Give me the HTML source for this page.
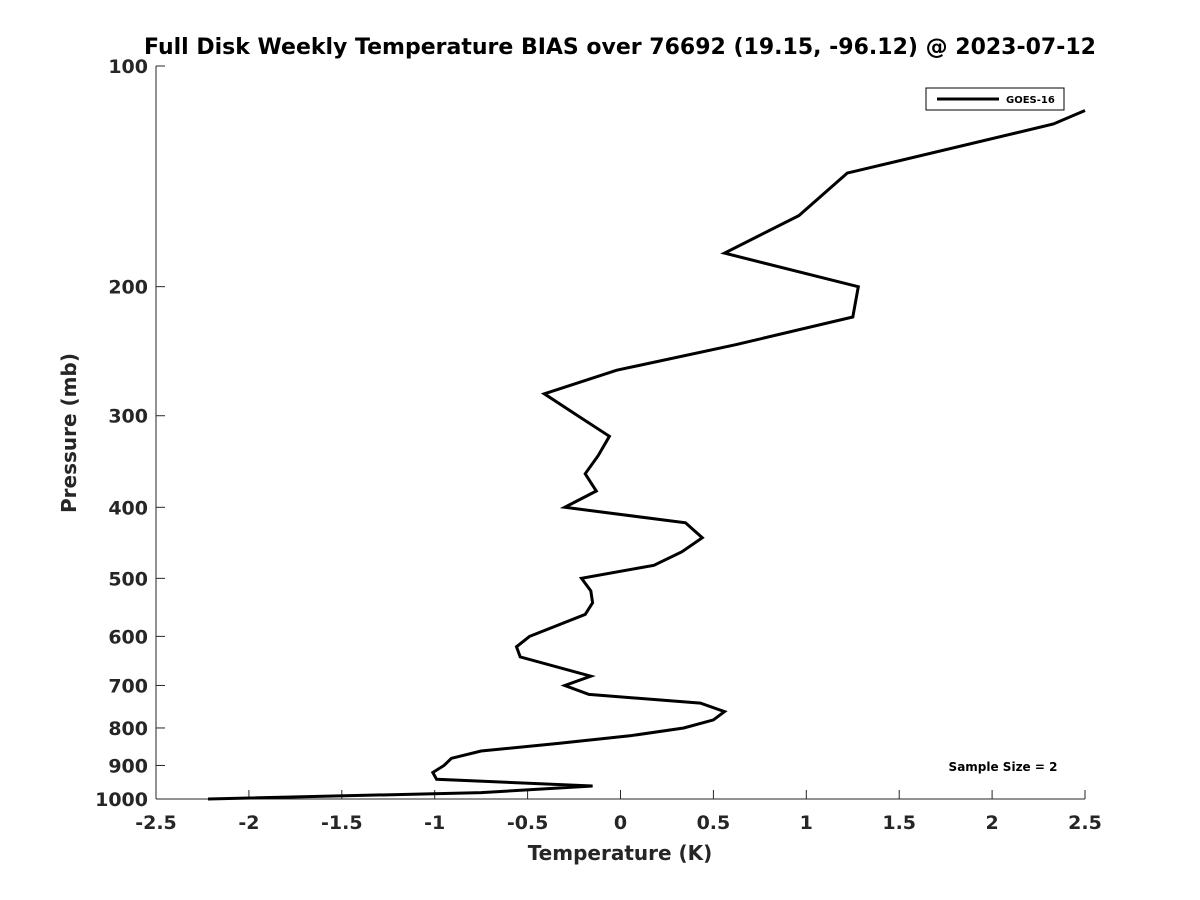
<!DOCTYPE html>
<html><head><meta charset="utf-8"><style>
body{margin:0;background:#fff;}
svg{display:block;font-family:"DejaVu Sans","Liberation Sans",sans-serif;}
</style></head><body>
<svg id="chart" width="1200" height="900">
<rect width="1200" height="900" fill="#fff"/>
<text x="620" y="54" text-anchor="middle" font-size="22" font-weight="bold" fill="#000">Full Disk Weekly Temperature BIAS over 76692 (19.15, -96.12) @ 2023-07-12</text>
<g id="axes"></g>
<text x="620" y="860" text-anchor="middle" font-size="20" font-weight="bold" fill="#262626">Temperature (K)</text>
<text transform="translate(76,433) rotate(-90)" text-anchor="middle" font-size="20" font-weight="bold" fill="#262626">Pressure (mb)</text>
<g>
<rect x="926" y="88" width="138" height="22" fill="#fff" stroke="#000" stroke-width="1"/>
<line x1="937" y1="99" x2="999" y2="99" stroke="#000" stroke-width="3"/>
<text x="1006" y="103" font-size="10" font-weight="bold" fill="#000">GOES-16</text>
</g>
<text x="1003" y="771" text-anchor="middle" font-size="12" font-weight="bold" fill="#000">Sample Size = 2</text>
</svg>
<script>
const pressures=[115,120,140,160,180,200,220,240,260,280,300,320,340,360,380,400,420,440,460,480,500,520,540,560,600,620,640,680,700,720,740,760,780,800,820,840,860,880,900,920,940,960,980,1000];
const biasValues=[2.50,2.33,1.22,0.96,0.56,1.28,1.25,0.62,-0.02,-0.41,-0.23,-0.06,-0.12,-0.19,-0.13,-0.30,0.35,0.44,0.33,0.18,-0.21,-0.16,-0.15,-0.19,-0.49,-0.56,-0.54,-0.16,-0.30,-0.17,0.43,0.56,0.50,0.34,0.05,-0.34,-0.75,-0.91,-0.95,-1.01,-0.99,-0.15,-0.75,-2.22];
const xTicks=[-2.5,-2,-1.5,-1,-0.5,0,0.5,1,1.5,2,2.5];
const yTicks=[100,200,300,400,500,600,700,800,900,1000];
const NS='http://www.w3.org/2000/svg';
const X0=156,X1=1085,Y0=66,Y1=799;
function xs(v){return X0+(v+2.5)/5*(X1-X0);}
function ys(p){return Y0+Math.log10(p/100)*(Y1-Y0);}
const g=document.getElementById('axes');
function mk(t,a){const e=document.createElementNS(NS,t);for(const k in a)e.setAttribute(k,a[k]);g.appendChild(e);return e;}
let ax=mk('line',{x1:X0,y1:Y1,x2:X1,y2:Y1,stroke:'#262626','stroke-width':1});


let ay=mk('line',{x1:X0,y1:Y0,x2:X0,y2:Y1,stroke:'#262626','stroke-width':1});


xTicks.forEach(v=>{const x=xs(v);
mk('line',{x1:x,y1:Y1,x2:x,y2:Y1-9,stroke:'#262626'});
const t=mk('text',{x:x,y:829,'text-anchor':'middle','font-size':19,'font-weight':'bold',fill:'#262626'});
t.textContent=String(v);

});
yTicks.forEach(p=>{const y=ys(p);
mk('line',{x1:X0,y1:y,x2:X0+9,y2:y,stroke:'#262626'});
const t=mk('text',{x:148,y:y+7,'text-anchor':'end','font-size':19,'font-weight':'bold',fill:'#262626'});
t.textContent=String(p);

});
const pts=pressures.map((p,i)=>xs(biasValues[i]).toFixed(1)+','+ys(p).toFixed(1)).join(' ');
const line=mk('polyline',{points:pts,fill:'none',stroke:'#000','stroke-width':3,'stroke-linejoin':'miter'});


</script>
</body></html>
